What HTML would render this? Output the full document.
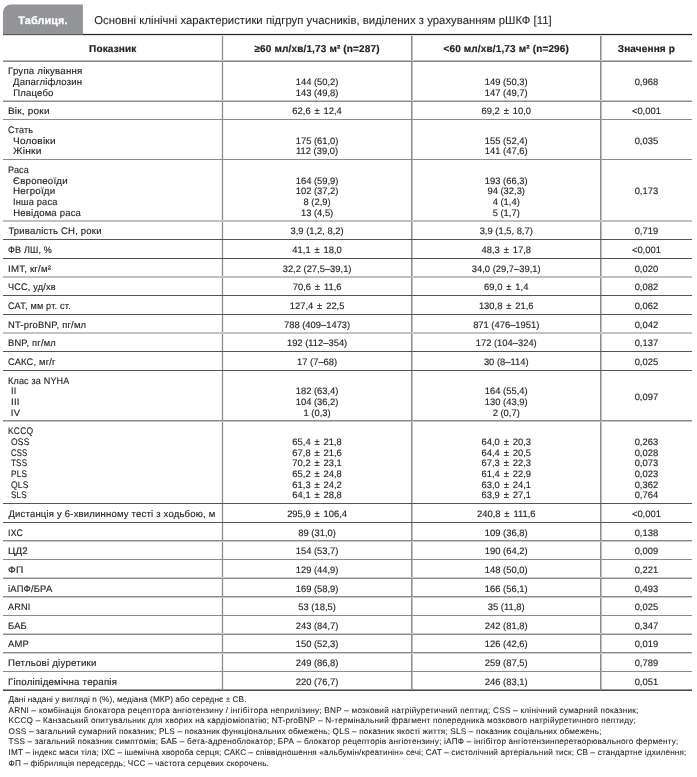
<!DOCTYPE html>
<html lang="uk"><head><meta charset="utf-8"><title>Таблиця</title>
<style>
html,body{margin:0;padding:0;background:#fff;}
body{width:697px;height:777px;position:relative;overflow:hidden;font-family:"Liberation Sans",sans-serif;color:#231f20;}
.wrap{position:absolute;left:0;top:0;width:697px;height:777px;will-change:transform;text-rendering:geometricPrecision;}
.t{position:absolute;white-space:nowrap;}
.l{font-size:9.50px;letter-spacing:0.200px;line-height:10px;left:8.40px;-webkit-text-stroke:0.15px #231f20;}
.n{font-size:9.40px;letter-spacing:0.000px;line-height:10px;text-align:center;-webkit-text-stroke:0.15px #231f20;}
.c2{left:222.50px;width:189.20px;}
.c3{left:411.70px;width:189.10px;}
.c4{left:600.80px;width:91.20px;}
.c1{left:3.00px;width:219.50px;}
.h{font-size:10.00px;letter-spacing:0.150px;line-height:12px;font-weight:bold;text-align:center;-webkit-text-stroke:0.20px #231f20;}
.f{font-size:8.20px;line-height:10px;left:8.6px;-webkit-text-stroke:0.08px #231f20;}
</style></head><body>
<div class="wrap">
<svg width="697" height="777" style="position:absolute;left:0;top:0" shape-rendering="crispEdges">
<rect x="222" y="35" width="1" height="654" fill="#8c8c8c"/>
<rect x="221" y="35" width="1" height="654" fill="#eeeeee"/>
<rect x="223" y="35" width="1" height="654" fill="#eeeeee"/>
<rect x="411" y="35" width="1" height="654" fill="#8c8c8c"/>
<rect x="412" y="35" width="1" height="654" fill="#c0c0c0"/>
<rect x="600" y="35" width="1" height="654" fill="#8c8c8c"/>
<rect x="601" y="35" width="1" height="654" fill="#c0c0c0"/>
<rect x="3" y="60" width="689" height="1" fill="#bcbcbc"/>
<rect x="3" y="61" width="689" height="1" fill="#8a8a8a"/>
<rect x="3" y="100" width="689" height="1" fill="#c8c8c8"/>
<rect x="3" y="101" width="689" height="1" fill="#8c8c8c"/>
<rect x="3" y="119" width="689" height="1" fill="#8c8c8c"/>
<rect x="3" y="159" width="689" height="1" fill="#8c8c8c"/>
<rect x="3" y="220" width="689" height="1" fill="#c0c0c0"/>
<rect x="3" y="221" width="689" height="1" fill="#c0c0c0"/>
<rect x="3" y="239" width="689" height="1" fill="#555555"/>
<rect x="3" y="258" width="689" height="1" fill="#505050"/>
<rect x="3" y="276" width="689" height="1" fill="#c0c0c0"/>
<rect x="3" y="277" width="689" height="1" fill="#c0c0c0"/>
<rect x="3" y="295" width="689" height="1" fill="#555555"/>
<rect x="3" y="314" width="689" height="1" fill="#555555"/>
<rect x="3" y="332" width="689" height="1" fill="#c3c3c3"/>
<rect x="3" y="333" width="689" height="1" fill="#c3c3c3"/>
<rect x="3" y="351" width="689" height="1" fill="#555555"/>
<rect x="3" y="370" width="689" height="1" fill="#555555"/>
<rect x="3" y="420" width="689" height="1" fill="#8c8c8c"/>
<rect x="3" y="421" width="689" height="1" fill="#c0c0c0"/>
<rect x="3" y="503" width="689" height="1" fill="#555555"/>
<rect x="3" y="522" width="689" height="1" fill="#555555"/>
<rect x="3" y="540" width="689" height="1" fill="#8c8c8c"/>
<rect x="3" y="541" width="689" height="1" fill="#c8c8c8"/>
<rect x="3" y="559" width="689" height="1" fill="#8c8c8c"/>
<rect x="3" y="577" width="689" height="1" fill="#cdcdcd"/>
<rect x="3" y="578" width="689" height="1" fill="#8c8c8c"/>
<rect x="3" y="596" width="689" height="1" fill="#8c8c8c"/>
<rect x="3" y="597" width="689" height="1" fill="#c8c8c8"/>
<rect x="3" y="615" width="689" height="1" fill="#8c8c8c"/>
<rect x="3" y="633" width="689" height="1" fill="#c8c8c8"/>
<rect x="3" y="634" width="689" height="1" fill="#8c8c8c"/>
<rect x="3" y="652" width="689" height="1" fill="#8c8c8c"/>
<rect x="3" y="653" width="689" height="1" fill="#cdcdcd"/>
<rect x="3" y="671" width="689" height="1" fill="#8c8c8c"/>
<rect x="3" y="689" width="689" height="1" fill="#969696"/>
<rect x="3" y="690" width="689" height="1" fill="#4b4b4b"/>
<rect x="3" y="33" width="689" height="1" fill="#e8e8e8"/>
<rect x="3" y="34" width="689" height="1" fill="#252122"/>
<rect x="3" y="35" width="689" height="1" fill="#e1e1e1"/>
</svg>
<svg width="697" height="40" style="position:absolute;left:0;top:0"><path d="M3 34 L3 12.5 A8 8 0 0 1 11 4.5 L82.9 4.5 L82.9 34 Z" fill="#929497"/><rect x="3" y="34" width="80" height="1" fill="#5b5a5c" shape-rendering="crispEdges"/></svg>
<div class="t" style="left:3px;width:79.9px;text-align:center;top:14px;font-size:10.80px;letter-spacing:0.150px;line-height:14px;font-weight:bold;color:#fff;-webkit-text-stroke:0.3px #fff;">Таблиця.</div>
<div class="t" style="left:94.2px;top:14px;font-size:11.30px;letter-spacing:0.040px;line-height:14px;color:#2b2829;-webkit-text-stroke:0.1px #2b2829;">Основні клінічні характеристики підгруп учасників, виділених з урахуванням рШКФ [11]</div>
<div class="t h c1" style="top:44px;">Показник</div>
<div class="t h c2" style="top:44px;">≥60 мл/хв/1,73 м² (n=287)</div>
<div class="t h c3" style="top:44px;">&lt;60 мл/хв/1,73 м² (n=296)</div>
<div class="t h c4" style="top:44px;">Значення р</div>
<div class="t l" style="top:67px;transform:scaleX(1.0179);transform-origin:0 0;">Група лікування</div>
<div class="t l" style="top:78px;left:13.30px;transform:scaleX(1.0044);transform-origin:0 0;">Дапагліфлозин</div>
<div class="t l" style="top:89px;left:13.30px;">Плацебо</div>
<div class="t n c2" style="top:77px;">144 (50,2)</div>
<div class="t n c2" style="top:88px;">143 (49,8)</div>
<div class="t n c3" style="top:77px;">149 (50,3)</div>
<div class="t n c3" style="top:88px;">147 (49,7)</div>
<div class="t n c4" style="top:77px;">0,968</div>
<div class="t l" style="top:107px;transform:scaleX(1.0492);transform-origin:0 0;">Вік, роки</div>
<div class="t n c2" style="top:106px;word-spacing:1.30px;">62,6 ± 12,4</div>
<div class="t n c3" style="top:106px;word-spacing:1.30px;">69,2 ± 10,0</div>
<div class="t n c4" style="top:106px;">&lt;0,001</div>
<div class="t l" style="top:126px;transform:scaleX(0.9492);transform-origin:0 0;">Стать</div>
<div class="t l" style="top:137px;left:13.30px;transform:scaleX(1.0529);transform-origin:0 0;">Чоловіки</div>
<div class="t l" style="top:147px;left:13.30px;transform:scaleX(1.0778);transform-origin:0 0;">Жінки</div>
<div class="t n c2" style="top:136px;">175 (61,0)</div>
<div class="t n c2" style="top:146px;">112 (39,0)</div>
<div class="t n c3" style="top:136px;">155 (52,4)</div>
<div class="t n c3" style="top:146px;">141 (47,6)</div>
<div class="t n c4" style="top:136px;">0,035</div>
<div class="t l" style="top:166px;transform:scaleX(0.9491);transform-origin:0 0;">Раса</div>
<div class="t l" style="top:177px;left:13.30px;transform:scaleX(1.0209);transform-origin:0 0;">Європеоїди</div>
<div class="t l" style="top:187px;left:13.30px;transform:scaleX(1.0270);transform-origin:0 0;">Негроїди</div>
<div class="t l" style="top:198px;left:13.30px;transform:scaleX(0.9716);transform-origin:0 0;">Інша раса</div>
<div class="t l" style="top:209px;left:13.30px;">Невідома раса</div>
<div class="t n c2" style="top:176px;">164 (59,9)</div>
<div class="t n c2" style="top:186px;">102 (37,2)</div>
<div class="t n c2" style="top:197px;">8 (2,9)</div>
<div class="t n c2" style="top:208px;">13 (4,5)</div>
<div class="t n c3" style="top:176px;">193 (66,3)</div>
<div class="t n c3" style="top:186px;">94 (32,3)</div>
<div class="t n c3" style="top:197px;">4 (1,4)</div>
<div class="t n c3" style="top:208px;">5 (1,7)</div>
<div class="t n c4" style="top:186px;">0,173</div>
<div class="t l" style="top:227px;">Тривалість СН, роки</div>
<div class="t n c2" style="top:226px;">3,9 (1,2, 8,2)</div>
<div class="t n c3" style="top:226px;">3,9 (1,5, 8,7)</div>
<div class="t n c4" style="top:226px;">0,719</div>
<div class="t l" style="top:246px;transform:scaleX(0.9485);transform-origin:0 0;">ФВ ЛШ, %</div>
<div class="t n c2" style="top:245px;word-spacing:1.30px;">41,1 ± 18,0</div>
<div class="t n c3" style="top:245px;word-spacing:1.30px;">48,3 ± 17,8</div>
<div class="t n c4" style="top:245px;">&lt;0,001</div>
<div class="t l" style="top:265px;transform:scaleX(1.0164);transform-origin:0 0;">ІМТ, кг/м²</div>
<div class="t n c2" style="top:264px;">32,2 (27,5–39,1)</div>
<div class="t n c3" style="top:264px;">34,0 (29,7–39,1)</div>
<div class="t n c4" style="top:264px;">0,020</div>
<div class="t l" style="top:283px;transform:scaleX(0.9597);transform-origin:0 0;">ЧСС, уд/хв</div>
<div class="t n c2" style="top:282px;word-spacing:1.30px;">70,6 ± 11,6</div>
<div class="t n c3" style="top:282px;word-spacing:1.30px;">69,0 ± 1,4</div>
<div class="t n c4" style="top:282px;">0,082</div>
<div class="t l" style="top:302px;transform:scaleX(0.9628);transform-origin:0 0;">САТ, мм рт. ст.</div>
<div class="t n c2" style="top:301px;word-spacing:1.30px;">127,4 ± 22,5</div>
<div class="t n c3" style="top:301px;word-spacing:1.30px;">130,8 ± 21,6</div>
<div class="t n c4" style="top:301px;">0,062</div>
<div class="t l" style="top:321px;transform:scaleX(0.9885);transform-origin:0 0;">NT-proBNP, пг/мл</div>
<div class="t n c2" style="top:320px;">788 (409–1473)</div>
<div class="t n c3" style="top:320px;">871 (476–1951)</div>
<div class="t n c4" style="top:320px;">0,042</div>
<div class="t l" style="top:339px;transform:scaleX(0.9794);transform-origin:0 0;">BNP, пг/мл</div>
<div class="t n c2" style="top:338px;">192 (112–354)</div>
<div class="t n c3" style="top:338px;">172 (104–324)</div>
<div class="t n c4" style="top:338px;">0,137</div>
<div class="t l" style="top:358px;transform:scaleX(0.9794);transform-origin:0 0;">САКС, мг/г</div>
<div class="t n c2" style="top:357px;">17 (7–68)</div>
<div class="t n c3" style="top:357px;">30 (8–114)</div>
<div class="t n c4" style="top:357px;">0,025</div>
<div class="t l" style="top:377px;transform:scaleX(0.9489);transform-origin:0 0;">Клас за NYHA</div>
<div class="t l" style="top:387px;left:10.80px;transform:scaleX(0.9615);transform-origin:0 0;">II</div>
<div class="t l" style="top:398px;left:10.80px;transform:scaleX(1.0139);transform-origin:0 0;">III</div>
<div class="t l" style="top:409px;left:10.80px;">IV</div>
<div class="t n c2" style="top:386px;">182 (63,4)</div>
<div class="t n c2" style="top:397px;">104 (36,2)</div>
<div class="t n c2" style="top:408px;">1 (0,3)</div>
<div class="t n c3" style="top:386px;">164 (55,4)</div>
<div class="t n c3" style="top:397px;">130 (43,9)</div>
<div class="t n c3" style="top:408px;">2 (0,7)</div>
<div class="t n c4" style="top:392px;">0,097</div>
<div class="t l" style="top:427px;transform:scaleX(0.8949);transform-origin:0 0;">KCCQ</div>
<div class="t l" style="top:438px;left:10.80px;transform:scaleX(0.8960);transform-origin:0 0;">OSS</div>
<div class="t l" style="top:449px;left:10.80px;transform:scaleX(0.8168);transform-origin:0 0;">CSS</div>
<div class="t l" style="top:459px;left:10.80px;transform:scaleX(0.8516);transform-origin:0 0;">TSS</div>
<div class="t l" style="top:470px;left:10.80px;transform:scaleX(0.8681);transform-origin:0 0;">PLS</div>
<div class="t l" style="top:481px;left:10.80px;transform:scaleX(0.9010);transform-origin:0 0;">QLS</div>
<div class="t l" style="top:491px;left:10.80px;transform:scaleX(0.8516);transform-origin:0 0;">SLS</div>
<div class="t n c2" style="top:437px;word-spacing:1.30px;">65,4 ± 21,8</div>
<div class="t n c2" style="top:448px;word-spacing:1.30px;">67,8 ± 21,6</div>
<div class="t n c2" style="top:458px;word-spacing:1.30px;">70,2 ± 23,1</div>
<div class="t n c2" style="top:469px;word-spacing:1.30px;">65,2 ± 24,8</div>
<div class="t n c2" style="top:480px;word-spacing:1.30px;">61,3 ± 24,2</div>
<div class="t n c2" style="top:490px;word-spacing:1.30px;">64,1 ± 28,8</div>
<div class="t n c3" style="top:437px;word-spacing:1.30px;">64,0 ± 20,3</div>
<div class="t n c3" style="top:448px;word-spacing:1.30px;">64,4 ± 20,5</div>
<div class="t n c3" style="top:458px;word-spacing:1.30px;">67,3 ± 22,3</div>
<div class="t n c3" style="top:469px;word-spacing:1.30px;">61,4 ± 22,9</div>
<div class="t n c3" style="top:480px;word-spacing:1.30px;">63,0 ± 24,1</div>
<div class="t n c3" style="top:490px;word-spacing:1.30px;">63,9 ± 27,1</div>
<div class="t n c4" style="top:437px;">0,263</div>
<div class="t n c4" style="top:448px;">0,028</div>
<div class="t n c4" style="top:458px;">0,073</div>
<div class="t n c4" style="top:469px;">0,023</div>
<div class="t n c4" style="top:480px;">0,362</div>
<div class="t n c4" style="top:490px;">0,764</div>
<div class="t l" style="top:510px;">Дистанція у 6-хвилинному тесті з ходьбою, м</div>
<div class="t n c2" style="top:509px;word-spacing:1.30px;">295,9 ± 106,4</div>
<div class="t n c3" style="top:509px;word-spacing:1.30px;">240,8 ± 111,6</div>
<div class="t n c4" style="top:509px;">&lt;0,001</div>
<div class="t l" style="top:529px;transform:scaleX(0.9295);transform-origin:0 0;">ІХС</div>
<div class="t n c2" style="top:528px;">89 (31,0)</div>
<div class="t n c3" style="top:528px;">109 (36,8)</div>
<div class="t n c4" style="top:528px;">0,138</div>
<div class="t l" style="top:547px;transform:scaleX(1.0269);transform-origin:0 0;">ЦД2</div>
<div class="t n c2" style="top:546px;">154 (53,7)</div>
<div class="t n c3" style="top:546px;">190 (64,2)</div>
<div class="t n c4" style="top:546px;">0,009</div>
<div class="t l" style="top:566px;transform:scaleX(1.0662);transform-origin:0 0;">ФП</div>
<div class="t n c2" style="top:565px;">129 (44,9)</div>
<div class="t n c3" style="top:565px;">148 (50,0)</div>
<div class="t n c4" style="top:565px;">0,221</div>
<div class="t l" style="top:585px;transform:scaleX(0.9888);transform-origin:0 0;">іАПФ/БРА</div>
<div class="t n c2" style="top:584px;">169 (58,9)</div>
<div class="t n c3" style="top:584px;">166 (56,1)</div>
<div class="t n c4" style="top:584px;">0,493</div>
<div class="t l" style="top:603px;transform:scaleX(0.9602);transform-origin:0 0;">ARNI</div>
<div class="t n c2" style="top:602px;">53 (18,5)</div>
<div class="t n c3" style="top:602px;">35 (11,8)</div>
<div class="t n c4" style="top:602px;">0,025</div>
<div class="t l" style="top:622px;transform:scaleX(0.9839);transform-origin:0 0;">БАБ</div>
<div class="t n c2" style="top:621px;">243 (84,7)</div>
<div class="t n c3" style="top:621px;">242 (81,8)</div>
<div class="t n c4" style="top:621px;">0,347</div>
<div class="t l" style="top:640px;transform:scaleX(0.9951);transform-origin:0 0;">АМР</div>
<div class="t n c2" style="top:639px;">150 (52,3)</div>
<div class="t n c3" style="top:639px;">126 (42,6)</div>
<div class="t n c4" style="top:639px;">0,019</div>
<div class="t l" style="top:659px;transform:scaleX(1.0208);transform-origin:0 0;">Петльові діуретики</div>
<div class="t n c2" style="top:658px;">249 (86,8)</div>
<div class="t n c3" style="top:658px;">259 (87,5)</div>
<div class="t n c4" style="top:658px;">0,789</div>
<div class="t l" style="top:678px;transform:scaleX(1.0197);transform-origin:0 0;">Гіполіпідемічна терапія</div>
<div class="t n c2" style="top:677px;">220 (76,7)</div>
<div class="t n c3" style="top:677px;">246 (83,1)</div>
<div class="t n c4" style="top:677px;">0,051</div>
<div class="t f" style="top:695px;letter-spacing:0.080px;">Дані надані у вигляді n (%), медіана (МКР) або середнє ± СВ.</div>
<div class="t f" style="top:706px;letter-spacing:0.234px;">ARNI – комбінація блокатора рецептора ангіотензину / інгібітора неприлізину; BNP – мозковий натрійуретичний пептид; CSS – клінічний сумарний показник;</div>
<div class="t f" style="top:716px;letter-spacing:0.223px;">KCCQ – Канзаський опитувальник для хворих на кардіоміопатію; NT-proBNP – N-термінальний фрагмент попередника мозкового натрійуретичного пептиду;</div>
<div class="t f" style="top:727px;letter-spacing:0.180px;">OSS – загальний сумарний показник; PLS – показник функціональних обмежень; QLS – показник якості життя; SLS – показник соціальних обмежень;</div>
<div class="t f" style="top:737px;letter-spacing:0.202px;">TSS – загальний показник симптомів; БАБ – бета-адреноблокатор; БРА – блокатор рецепторів ангіотензину; іАПФ – інгібітор ангіотензинперетворювального ферменту;</div>
<div class="t f" style="top:748px;letter-spacing:0.132px;">ІМТ – індекс маси тіла; ІХС – ішемічна хвороба серця; САКС – співвідношення «альбумін/креатинін» сечі; САТ – систолічний артеріальний тиск; СВ – стандартне ідхилення;</div>
<div class="t f" style="top:759px;letter-spacing:0.140px;">ФП – фібриляція передсердь; ЧСС – частота серцевих скорочень.</div>
</div>
</body></html>
